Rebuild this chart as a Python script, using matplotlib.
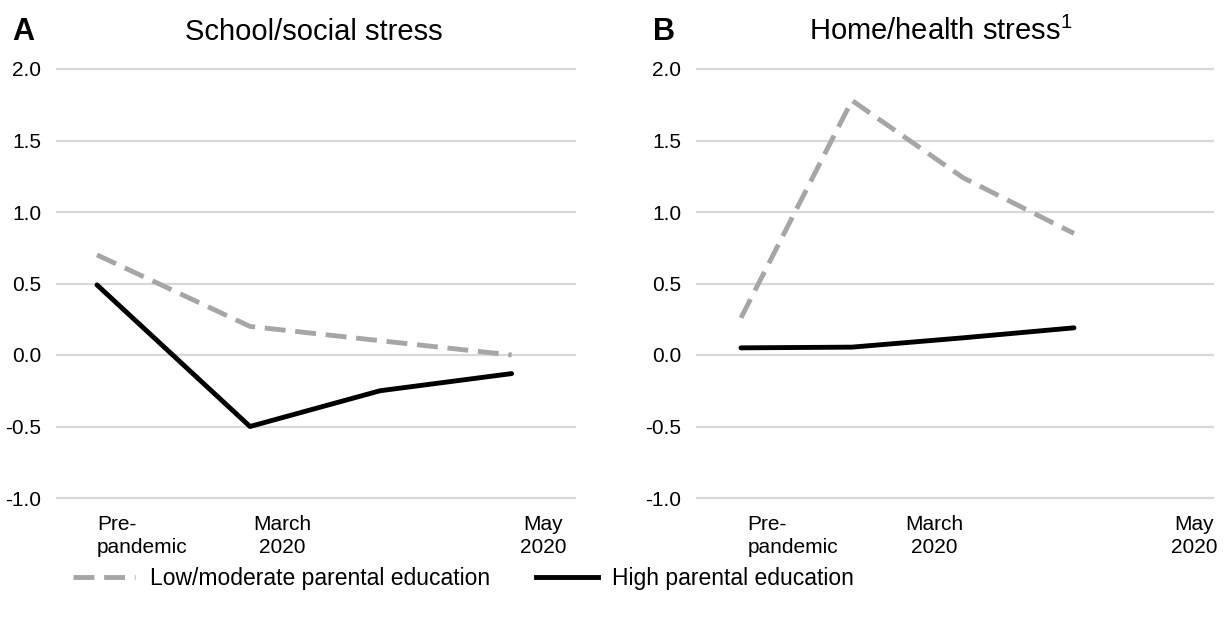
import numpy as np
import matplotlib
matplotlib.use("Agg")
import matplotlib.pyplot as plt
from matplotlib.lines import Line2D

plt.rcParams['font.family'] = ['Liberation Sans', 'DejaVu Sans']
plt.rcParams['mathtext.default'] = 'regular'
plt.rcParams['axes.unicode_minus'] = False

# data
time_labels = ["Pre-\npandemic", "March\n2020", "May\n2020"]
series_names = ["Low/moderate parental education", "High parental education"]

time_a = [0, 1, 1.85, 2.71]
low_a = [0.70, 0.20, 0.10, 0.00]
high_a = [0.49, -0.50, -0.25, -0.13]

time_b = [0, 1, 2, 3]
low_b = [0.26, 1.78, 1.24, 0.85]
high_b = [0.05, 0.055, 0.12, 0.19]

y_ticks = [-1.0, -0.5, 0.0, 0.5, 1.0, 1.5, 2.0]

W, H = 1229, 622
fig = plt.figure(figsize=(W / 100, H / 100), dpi=100)

gray = '#a6a6a6'
grid_c = '#d9d9d9'
LW = 3.5


def make_axes(left_px, right_px):
    return fig.add_axes([left_px / W, (H - 498) / H, (right_px - left_px) / W, (498 - 69) / H])


def style(ax, xlim, label_pos, has, mas):
    ax.set_xlim(*xlim)
    ax.set_ylim(-1, 2)
    ax.set_yticks(y_ticks)
    ax.set_yticklabels(["%.1f" % v for v in y_ticks])
    ax.yaxis.grid(True, color=grid_c, lw=1.6)
    for g in ax.get_ygridlines():
        g.set_clip_on(False)
    ax.set_axisbelow(True)
    for s in ax.spines.values():
        s.set_visible(False)
    ax.tick_params(axis='y', length=0, pad=11.5, labelsize=15)
    ax.tick_params(axis='x', length=0, pad=12, labelsize=15)
    ax.set_xticks(label_pos)
    ax.set_xticklabels(time_labels)
    for lbl, ha, ma in zip(ax.get_xticklabels(), has, mas):
        lbl.set_ha(ha)
        lbl.set_multialignment(ma)
        lbl.set_linespacing(1.3)


def draw(ax, t, low, high):
    ax.plot(t, low, color=gray, lw=LW, dashes=(4.3, 2.0), dash_capstyle='butt', clip_on=False)
    ax.plot(t, high, color='black', lw=LW, solid_capstyle='round', clip_on=False)


axA = make_axes(57, 575)
draw(axA, time_a, low_a, high_a)
style(axA, (-(97 - 57) / 153, (575 - 97) / 153), [0, 1.21, 2.915],
      ['left', 'center', 'center'], ['left', 'center', 'center'])

axB = make_axes(697, 1213)
draw(axB, time_b, low_b, high_b)
style(axB, (-(741 - 697) / 111, (1213 - 741) / 111), [0.06, 1.74, 4.08],
      ['left', 'center', 'center'], ['left', 'center', 'center'])

# panel letters and titles
fig.text(12 / W, 1 - 40 / H, "A", fontsize=22, fontweight='bold', va='baseline')
fig.text(653 / W, 1 - 40 / H, "B", fontsize=22, fontweight='bold', va='baseline')
fig.text(313.5 / W, 1 - 40 / H, "School/social stress", fontsize=21, ha='center', va='baseline')
fig.text(941 / W, 1 - 40 / H, "Home/health stress$^{1}$", fontsize=21, ha='center', va='baseline')

handles = [Line2D([], [], color=gray, lw=LW, dashes=(4.3, 2.0)),
           Line2D([], [], color='black', lw=LW)]
fig.legend(handles, series_names, loc='center left', bbox_to_anchor=(73 / W, 1 - 579 / H),
           ncol=2, frameon=False, fontsize=16.5, handlelength=2.7, handletextpad=0.65,
           columnspacing=2.0, borderpad=0, borderaxespad=0)

fig.savefig("out.png", dpi=100)
